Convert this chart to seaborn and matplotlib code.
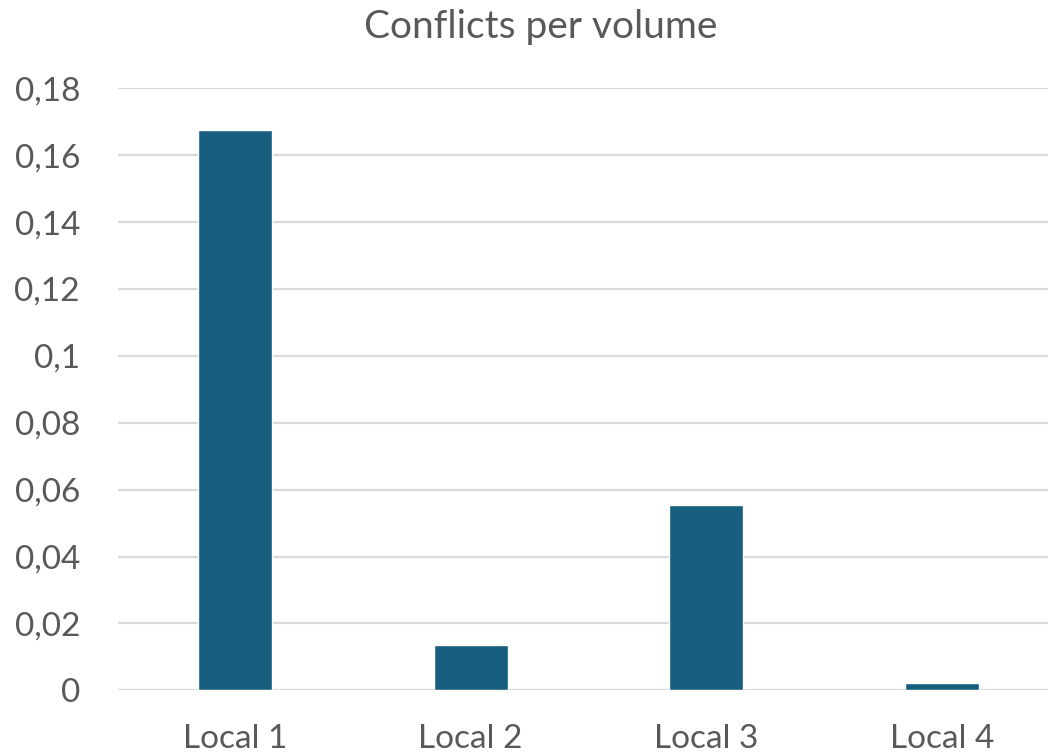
import matplotlib
matplotlib.use("Agg")
import matplotlib.pyplot as plt
from matplotlib.ticker import FuncFormatter
import seaborn as sns

categories = ["Local 1", "Local 2", "Local 3", "Local 4"]
conflicts_per_volume = [0.1674, 0.0135, 0.0553, 0.0021]
y_ticks = [0, 0.02, 0.04, 0.06, 0.08, 0.10, 0.12, 0.14, 0.16, 0.18]
title = "Conflicts per volume"

sns.set_theme(style="white")
plt.rcParams["font.family"] = ["Lato", "DejaVu Sans"]

W, H = 1048, 755
fig = plt.figure(figsize=(W / 100, H / 100), dpi=100)
left_px, right_px = 117.5, 1048
top_px, base_px = 88.3, 690.3
ax = fig.add_axes([left_px / W, (H - base_px) / H,
                   (right_px - left_px) / W, (base_px - top_px) / H])

text_color = "#595959"
sns.barplot(x=categories, y=conflicts_per_volume, color="#175E7F",
            saturation=1, width=0.314, ax=ax, zorder=3)

ax.set_ylim(0, 0.18)
ax.set_xlim(-0.5, 3.5 - (1059.5 - right_px) / 235.5)
ax.set_yticks(y_ticks)
ax.yaxis.set_major_formatter(FuncFormatter(lambda v, p: f"{v:g}".replace(".", ",")))
ax.grid(axis="y", color="#d9d9d9", linewidth=1.6, zorder=0)
ax.grid(axis="x", visible=False)
for s in ax.spines.values():
    s.set_visible(False)
ax.tick_params(axis="both", length=0, labelsize=24, labelcolor=text_color)
ax.tick_params(axis="y", pad=27)
ax.tick_params(axis="x", pad=24)
ax.set_xlabel("")
ax.set_ylabel("")

fig.text(541 / W, 1 - 38 / H, title, ha="center", va="baseline",
         fontsize=28, color=text_color)

fig.savefig("out.png", dpi=100)
